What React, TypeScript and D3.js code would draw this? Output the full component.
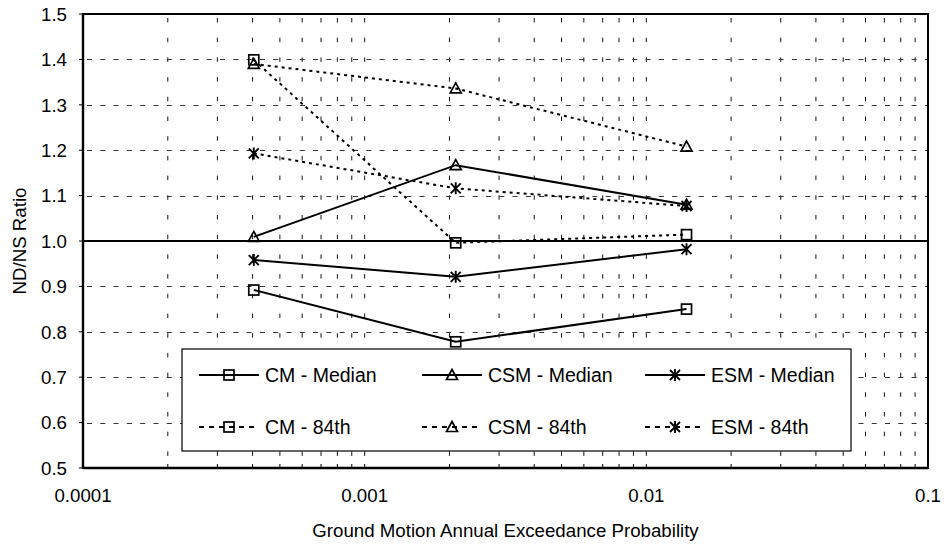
import React from "react";
import * as d3 from "d3";

// annual exceedance probabilities (2475, 475, 72 yr return periods)
const probs = [0.000404, 0.002105, 0.01389];

const cmMedian = [0.892, 0.778, 0.85];
const csmMedian = [1.009, 1.167, 1.08];
const esmMedian = [0.958, 0.921, 0.982];
const cm84 = [1.399, 0.996, 1.014];
const csm84 = [1.39, 1.336, 1.208];
const esm84 = [1.193, 1.116, 1.077];

const yTicks = [0.5, 0.6, 0.7, 0.8, 0.9, 1.0, 1.1, 1.2, 1.3, 1.4, 1.5];
const xTickValues = [0.0001, 0.001, 0.01, 0.1];
const xTickLabels = ["0.0001", "0.001", "0.01", "0.1"];

type Series = { name: string; values: number[]; marker: "square" | "triangle" | "star"; dashed: boolean };

const series: Series[] = [
  { name: "CM - Median", values: cmMedian, marker: "square", dashed: false },
  { name: "CSM - Median", values: csmMedian, marker: "triangle", dashed: false },
  { name: "ESM - Median", values: esmMedian, marker: "star", dashed: false },
  { name: "CM - 84th", values: cm84, marker: "square", dashed: true },
  { name: "CSM - 84th", values: csm84, marker: "triangle", dashed: true },
  { name: "ESM - 84th", values: esm84, marker: "star", dashed: true },
];

const W = 944;
const H = 544;
const margin = { top: 14, right: 16, bottom: 76, left: 83 };
const FONT = "'Liberation Sans', Arial, sans-serif";

const Marker = ({ type, x, y }: { type: string; x: number; y: number }) => {
  if (type === "square") {
    return <rect x={x - 5} y={y - 5} width={10} height={10} fill="none" stroke="#000" strokeWidth={1.7} />;
  }
  if (type === "triangle") {
    return (
      <path
        d={`M${x},${y - 5.5}L${x + 5.5},${y + 4.5}L${x - 5.5},${y + 4.5}Z`}
        fill="none"
        stroke="#000"
        strokeWidth={1.7}
      />
    );
  }
  return (
    <path
      d={`M${x - 5},${y - 5}L${x + 5},${y + 5}M${x - 5},${y + 5}L${x + 5},${y - 5}M${x},${y - 6}L${x},${y + 6}`}
      stroke="#000"
      strokeWidth={1.9}
    />
  );
};

export default function App() {
  const x = d3.scaleLog().domain([0.0001, 0.1]).range([margin.left, W - margin.right]);
  const y = d3.scaleLinear().domain([0.5, 1.5]).range([H - margin.bottom, margin.top]);

  const x0 = margin.left;
  const x1 = W - margin.right;
  const y0 = H - margin.bottom;
  const y1 = margin.top;

  const allXTicks = x.ticks().filter((t) => t > 0.0001 && t < 0.1);

  const line = d3
    .line<number>()
    .x((_, i) => x(probs[i]))
    .y((d) => y(d));

  const legendCols = [199, 422, 645];
  const legendRows = [375, 427];

  return (
    <svg width={W} height={H} style={{ position: "absolute", left: 0, top: 0, background: "#fff" }} fontFamily={FONT}>
      {/* vertical grid */}
      {allXTicks.map((t, i) => (
        <line key={"vg" + i} x1={x(t)} x2={x(t)} y1={y1} y2={y0} stroke="#111" strokeWidth={1} strokeDasharray="4.5,15.2" strokeDashoffset={-4} />
      ))}
      {/* horizontal grid */}
      {yTicks
        .filter((t) => t > 0.5 && t < 1.5 && Math.abs(t - 1) > 1e-6)
        .map((t, i) => (
          <line key={"hg" + i} x1={x0} x2={x1} y1={Math.round(y(t)) + 0.5} y2={Math.round(y(t)) + 0.5} stroke="#333" strokeWidth={1} strokeDasharray="5,8.3" strokeDashoffset={-4} />
        ))}
      {/* reference line at 1.0 */}
      <line x1={x0} x2={x1} y1={y(1)} y2={y(1)} stroke="#000" strokeWidth={2} />

      {/* bottom minor ticks (inside) */}
      {allXTicks.map((t, i) => (
        <line key={"bt" + i} x1={x(t)} x2={x(t)} y1={y0} y2={y0 - 4} stroke="#000" strokeWidth={1} />
      ))}
      {/* left ticks (outside) */}
      {yTicks.map((t, i) => (
        <line key={"lt" + i} x1={x0 - 4} x2={x0} y1={y(t)} y2={y(t)} stroke="#000" strokeWidth={1} />
      ))}

      {/* series */}
      {series.map((s) => (
        <g key={s.name}>
          <path d={line(s.values) || ""} fill="none" stroke="#000" strokeWidth={2} strokeDasharray={s.dashed ? "3,4" : undefined} />
          {s.values.map((v, i) => (
            <Marker key={i} type={s.marker} x={x(probs[i])} y={y(v)} />
          ))}
        </g>
      ))}

      {/* frame */}
      <rect x={x0} y={y1} width={x1 - x0} height={y0 - y1} fill="none" stroke="#000" strokeWidth={2} />
      <line x1={x0} x2={x1} y1={y0} y2={y0} stroke="#000" strokeWidth={2.6} />
      <line x1={x0} x2={x0} y1={y1} y2={y0} stroke="#000" strokeWidth={2.4} />

      {/* y tick labels */}
      {yTicks.map((t, i) => (
        <text key={"yl" + i} x={x0 - 16} y={y(t)} dy="0.36em" textAnchor="end" fontSize={18.7} fill="#000">
          {t.toFixed(1)}
        </text>
      ))}
      {/* x tick labels */}
      {xTickValues.map((t, i) => (
        <text key={"xl" + i} x={x(t)} y={502} textAnchor="middle" fontSize={18.7} fill="#000">
          {xTickLabels[i]}
        </text>
      ))}

      {/* axis titles */}
      <text x={(x0 + x1) / 2} y={537} textAnchor="middle" fontSize={18.7} fill="#000">
        Ground Motion Annual Exceedance Probability
      </text>
      <text transform={`translate(26,${(y0 + y1) / 2}) rotate(-90)`} textAnchor="middle" fontSize={18.7} fill="#000">
        ND/NS Ratio
      </text>

      {/* legend */}
      <rect x={182} y={349} width={669} height={102} fill="#fff" stroke="#000" strokeWidth={1.2} />
      {series.map((s, i) => {
        const lx = legendCols[i % 3];
        const ly = legendRows[Math.floor(i / 3)];
        return (
          <g key={"lg" + s.name}>
            <line x1={lx} x2={lx + 60} y1={ly} y2={ly} stroke="#000" strokeWidth={2} strokeDasharray={s.dashed ? "5,5" : undefined} />
            <Marker type={s.marker} x={lx + 30} y={ly} />
            <text x={lx + 66} y={ly} dy="0.36em" fontSize={19.5} fill="#000">
              {s.name}
            </text>
          </g>
        );
      })}
    </svg>
  );
}
